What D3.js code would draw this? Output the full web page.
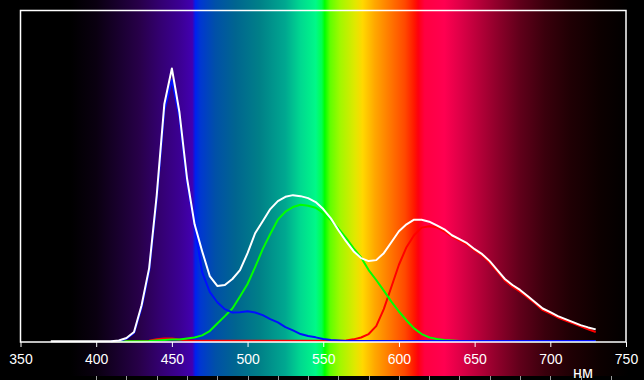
<!DOCTYPE html>
<html>
<head>
<meta charset="utf-8">
<script src="https://cdn.jsdelivr.net/npm/d3@7"></script>
<style>
  html, body { margin: 0; padding: 0; background: #000; }
  svg { display: block; }
  text { font-family: "Liberation Sans", Arial, sans-serif; fill: #fff; }
</style>
</head>
<body>
<div id="chart-area"></div>
<script>
const wavelengths = d3.range(370, 731, 5);

// relative intensity, % of plot height (null = not measured)
const white = [0.2, 0.2, 0.2, 0.2, 0.2, 0.2, 0.2, 0.2, 0.2, 0.45, 1.2, 3.0, 11.1, 22.3, 44.3, 71.7, 82.5, 69.3, 49.4, 35.5,
  27.4, 19.9, 16.9, 17.2, 19.0, 21.7, 26.8, 32.8, 36.4, 40.1, 42.5, 43.8, 44.3, 44.0, 43.4, 42.2, 40.1, 37.3, 33.7, 30.4,
  27.4, 25.3, 24.4, 24.7, 26.8, 30.1, 33.4, 35.5, 36.9, 36.9, 36.3, 35.2, 34.0, 32.2, 31.0, 29.8, 28.0, 26.5, 24.4, 21.7,
  19.0, 17.2, 15.7, 13.9, 12.0, 10.1, 9.0, 7.8, 6.9, 6.0, 5.1, 4.4, 3.8];

const blue = [null, null, null, null, null, null, null, null, 0.2, 0.4, 1.0, 2.7, 10.4, 21.4, 43.0, 69.8, 79.0, 67.8, 48.3, 35.0,
  21.1, 15.1, 12.0, 9.9, 8.9, 9.0, 9.3, 8.9, 8.1, 6.9, 5.9, 4.5, 3.5, 2.4, 1.8, 1.4, 0.9, 0.6, 0.45, 0.3,
  0.3, 0.3, 0.3, 0.3, 0.3, 0.3, 0.3, 0.3, 0.3, 0.3, 0.3, 0.3, 0.3, 0.3, 0.3, 0.3, 0.3, 0.3, 0.3, 0.3,
  0.3, 0.3, 0.3, 0.3, 0.3, 0.3, 0.3, 0.3, 0.3, 0.3, 0.3, 0.3, 0.3];

const green = [null, null, null, null, null, null, null, null, 0.2, 0.2, 0.2, 0.2, 0.25, 0.3, 0.45, 0.6, 0.75, 0.75, 1.05, 1.35,
  2.0, 3.3, 5.6, 7.8, 10.1, 13.7, 17.5, 22.6, 28.0, 32.6, 36.9, 39.3, 40.7, 41.4, 41.1, 40.5, 38.9, 36.7, 34.3, 31.4,
  28.3, 25.5, 21.7, 18.7, 15.5, 12.2, 9.2, 6.5, 4.1, 2.4, 1.4, 0.9, 0.6, 0.45, 0.3, 0.3, 0.3, 0.3, 0.3, 0.3,
  0.3, 0.3, 0.25, 0.25, 0.25, 0.25, 0.2, 0.2, 0.2, 0.2, 0.2, 0.2, 0.2];

const red = [null, null, null, null, null, null, null, null, 0.2, 0.2, 0.2, 0.2, 0.25, 0.4, 0.8, 1.05, 1.05, 0.75, 0.45, 0.4,
  0.4, 0.4, 0.4, 0.4, 0.4, 0.4, 0.4, 0.4, 0.4, 0.4, 0.4, 0.4, 0.4, 0.4, 0.4, 0.4, 0.4, 0.4, 0.4, 0.45,
  0.8, 1.35, 2.4, 4.8, 9.9, 16.6, 23.3, 28.6, 32.2, 34.5, 34.9, 34.6, 33.4, 31.8, 30.6, 29.4, 27.6, 26.1, 23.9, 21.2,
  18.5, 16.7, 15.2, 13.4, 11.6, 9.6, 8.6, 7.4, 6.5, 5.6, 4.7, 3.8, 3.0];

const axisTicks = d3.range(350, 751, 50);
const stripTicks = d3.range(400, 741, 20);

// background spectrum colours by wavelength
const spectrumStops = [
  [383, "#000000"], [400, "#0a0010"], [416, "#1a0030"], [429, "#28004a"], [442, "#330070"],
  [456, "#3c0095"], [463.5, "#4200b0"], [465.5, "#0020f0"], [469, "#0038d0"], [478.7, "#0050a8"],
  [492, "#006590"], [508, "#008088"], [525, "#00a890"], [535, "#00d890"], [545, "#00f888"],
  [549, "#00ff50"], [551, "#00ff00"], [554.6, "#60ff00"], [561, "#a0f800"], [571, "#e0e800"],
  [576, "#ffd800"], [584, "#ffa800"], [594, "#ff7800"], [604, "#ff4800"], [610, "#ff1800"],
  [612.7, "#ff0010"], [617, "#ff0040"], [630, "#ff0050"], [640, "#e00048"], [653.6, "#b40038"],
  [667, "#880028"], [680, "#60001a"], [696.5, "#3a000c"], [713, "#200004"], [733, "#0c0000"],
  [752, "#000000"]
];

const chart = { width: 644, height: 380 };
const plot = { left: 20.5, right: 626, top: 10.5, bottom: 342 };

const x = d3.scaleLinear().domain([350, 750]).range([plot.left, plot.right]);
const y = d3.scaleLinear().domain([0, 100]).range([plot.bottom, plot.top]);

const svg = d3
  .select("#chart-area")
  .append("svg")
  .attr("width", chart.width)
  .attr("height", chart.height);

svg.append("rect")
  .attr("width", chart.width)
  .attr("height", chart.height)
  .attr("fill", "#000");

const grad = svg.append("defs")
  .append("linearGradient")
  .attr("id", "spectrum")
  .attr("gradientUnits", "userSpaceOnUse")
  .attr("x1", 0).attr("x2", chart.width)
  .attr("y1", 0).attr("y2", 0);

grad.selectAll("stop")
  .data(spectrumStops)
  .enter()
  .append("stop")
  .attr("offset", d => x(d[0]) / chart.width)
  .attr("stop-color", d => d[1]);

svg.append("rect")
  .attr("width", chart.width)
  .attr("height", 376)
  .attr("fill", "url(#spectrum)");

// strip ticks at the very bottom
svg.append("g")
  .selectAll("line")
  .data(stripTicks)
  .enter()
  .append("line")
  .attr("x1", d => Math.round(x(d)) + 0.5)
  .attr("x2", d => Math.round(x(d)) + 0.5)
  .attr("y1", 376)
  .attr("y2", 380)
  .attr("stroke", "#9a9a9a")
  .attr("stroke-width", 1);

// curves
const series = [
  { values: red, color: "#ff0000" },
  { values: green, color: "#00ff00" },
  { values: blue, color: "#0010ff" },
  { values: white, color: "#ffffff" }
];

const line = d3.line()
  .defined(d => d[1] != null)
  .x(d => x(d[0]))
  .y(d => y(d[1]));

svg.append("g")
  .selectAll("path")
  .data(series)
  .enter()
  .append("path")
  .attr("d", s => line(wavelengths.map((w, i) => [w, s.values[i]])))
  .attr("fill", "none")
  .attr("stroke", s => s.color)
  .attr("stroke-width", 2)
  .attr("stroke-linejoin", "round");

// frame
svg.append("rect")
  .attr("x", plot.left)
  .attr("y", plot.top)
  .attr("width", plot.right - plot.left)
  .attr("height", plot.bottom - plot.top)
  .attr("fill", "none")
  .attr("stroke", "#fff")
  .attr("stroke-width", 1.5);

const xAxis = d3.axisBottom(x)
  .tickValues(axisTicks)
  .tickSize(5)
  .tickPadding(7)
  .tickFormat(d3.format("d"));

const gx = svg.append("g")
  .attr("class", "x-axis")
  .attr("transform", `translate(0, ${plot.bottom})`)
  .call(xAxis);

gx.select(".domain").remove();
gx.selectAll("line").attr("stroke", "#fff");
gx.selectAll("text")
  .attr("fill", "#fff")
  .attr("font-size", 14)
  .attr("font-family", "Liberation Sans, Arial, sans-serif");

svg.append("text")
  .text("нм")
  .attr("x", 583)
  .attr("y", 377.5)
  .attr("text-anchor", "middle")
  .attr("font-size", 16);
</script>
</body>
</html>
